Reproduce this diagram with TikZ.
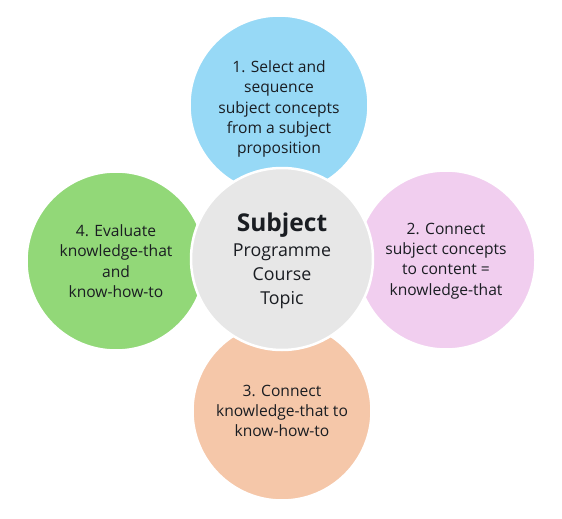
\documentclass[tikz,border=0pt]{standalone}
\usepackage{fontspec}
\setmainfont{Open Sans}
\definecolor{cblue}{HTML}{97D9F6}
\definecolor{cgray}{HTML}{E7E7E7}
\definecolor{cgreen}{HTML}{92D878}
\definecolor{cpink}{HTML}{F1CEEF}
\definecolor{corange}{HTML}{F5C7A9}
\definecolor{ctext}{HTML}{1A1D22}
\begin{document}
\begin{tikzpicture}[x=1pt,y=-1pt,
  petal/.style={circle,draw=white,line width=2.5pt,minimum size=179pt,inner sep=0pt},
  ptext/.style={align=center,text=ctext,inner sep=0pt,font=\fontsize{15.6}{20.3}\selectfont}]
\useasboundingbox[fill=white] (0,0) rectangle (562,519);
\node[petal,fill=cblue] (s1) at (279,105) {};
\node[petal,fill=cgreen] (s4) at (116,261) {};
\node[petal,fill=cpink] (s2) at (446,260) {};
\node[petal,fill=corange] (s3) at (282,411) {};
\node[petal,fill=cgray,minimum size=182pt] (c) at (282,259) {};
\node[ptext] (t1) at (279,109) {1. Select and\\sequence\\subject concepts\\from a subject\\proposition};
\node[ptext] (t4) at (116,261) {4. Evaluate\\knowledge-that\\and\\know-how-to};
\node[ptext] (t2) at (446,261) {2. Connect\\subject concepts\\to content =\\knowledge-that};
\node[ptext] (t3) at (282,411) {3. Connect\\knowledge-that to\\know-how-to};
\node[ptext,font=\fontsize{17.8}{24}\selectfont] (tc) at (282,261)
  {{\fontsize{24.5}{24}\selectfont\bfseries Subject}\\[1pt]Programme\\Course\\Topic};
\end{tikzpicture}
\end{document}
